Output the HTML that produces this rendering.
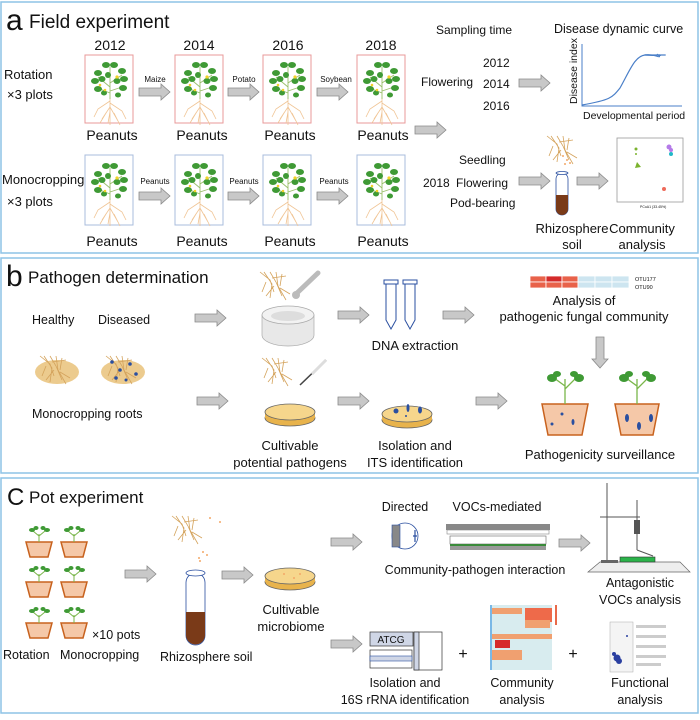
<!DOCTYPE html>
<html><head><meta charset="utf-8"><style>
html,body{margin:0;padding:0;background:#fff;}
svg text{font-family:"Liberation Sans",sans-serif;fill:#111;}
</style></head><body>
<svg width="700" height="715" viewBox="0 0 700 715" xmlns="http://www.w3.org/2000/svg">
<defs>
<g id="arr"><polygon points="0,-4 22,-4 22,-8 31,0 22,8 22,4 0,4" fill="#c8c8c8" stroke="#8a8a8a" stroke-width="0.8"/></g>
<g id="plant">
<g stroke="#f0c494" stroke-width="0.8" fill="none">
<path d="M24 40 L24 68 M24 44 L12 52 L8 60 M24 46 L36 54 L40 62 M24 50 L16 62 M24 50 L32 64 M20 56 L14 66 M28 56 L34 68 M24 55 L22 66"/>
</g>
<g stroke="#9bbf6a" stroke-width="0.9"><path d="M24 42 L24 10 M24 30 L12 20 M24 26 L36 18 M24 36 L14 32 M24 34 L36 30"/></g>
<g fill="#3f9a35">
<ellipse cx="20" cy="8" rx="4" ry="3"/><ellipse cx="28" cy="8" rx="4" ry="3"/><ellipse cx="12" cy="16" rx="4" ry="3"/><ellipse cx="36" cy="14" rx="4" ry="3"/><ellipse cx="9" cy="24" rx="4" ry="3"/><ellipse cx="16" cy="22" rx="3.5" ry="3"/><ellipse cx="38" cy="22" rx="4" ry="3"/><ellipse cx="31" cy="24" rx="3.5" ry="3"/><ellipse cx="12" cy="32" rx="4" ry="3"/><ellipse cx="37" cy="31" rx="4" ry="3"/><ellipse cx="22" cy="18" rx="3" ry="3"/><ellipse cx="18" cy="36" rx="3" ry="2.5"/><ellipse cx="32" cy="38" rx="3" ry="2.5"/>
</g>
<circle cx="31" cy="20" r="1.6" fill="#f2d22a"/><circle cx="14" cy="28" r="1.3" fill="#f2d22a"/><circle cx="19" cy="33" r="1.3" fill="#f2d22a"/>
</g>
<g id="pot"><polygon points="0,0 26,0 22,15 4,15" fill="#f5c8a8" stroke="#c8621e" stroke-width="1.5"/>
<path d="M13 0 L13 -8 M13 -6 L7 -11 M13 -6 L19 -11" stroke="#7ab64a" stroke-width="1" fill="none"/>
<ellipse cx="6" cy="-12" rx="3" ry="2" fill="#3f9a35"/><ellipse cx="10" cy="-14" rx="2.5" ry="2" fill="#3f9a35"/><ellipse cx="17" cy="-14" rx="2.5" ry="2" fill="#3f9a35"/><ellipse cx="21" cy="-12" rx="3" ry="2" fill="#3f9a35"/></g>
<g id="roots" stroke="#d4a35c" stroke-width="0.8" fill="none"><path d="M0 0 L10 8 L14 20 M4 0 L12 12 L10 26 M10 0 L16 10 L22 24 M16 0 L18 14 L26 28 M22 2 L20 14 M6 10 L2 20 M14 14 L6 24 M20 16 L30 22 M12 6 L26 4"/></g>
<g id="dish"><ellipse cx="25" cy="14" rx="25" ry="8" fill="#e8b34c" stroke="#666" stroke-width="0.8"/><rect x="0" y="8" width="50" height="6" fill="#e8b34c"/><ellipse cx="25" cy="8" rx="25" ry="8" fill="#f6d68c" stroke="#666" stroke-width="0.8"/></g>
</defs>

<!-- panel borders -->
<rect x="1" y="2" width="697" height="251" fill="none" stroke="#8ec3e6" stroke-width="1.5"/>
<rect x="1" y="258" width="697" height="215" fill="none" stroke="#8ec3e6" stroke-width="1.5"/>
<rect x="1" y="478" width="697" height="235" fill="none" stroke="#8ec3e6" stroke-width="1.5"/>

<!-- PANEL A -->
<text x="6" y="30" font-size="30">a</text>
<text x="29" y="28" font-size="19">Field experiment</text>
<g font-size="14" text-anchor="middle">
<text x="110" y="50">2012</text><text x="199" y="50">2014</text><text x="288" y="50">2016</text><text x="381" y="50">2018</text>
<text x="112" y="140">Peanuts</text><text x="202" y="140">Peanuts</text><text x="290" y="140">Peanuts</text><text x="383" y="140">Peanuts</text>
<text x="112" y="246">Peanuts</text><text x="202" y="246">Peanuts</text><text x="290" y="246">Peanuts</text><text x="383" y="246">Peanuts</text>
</g>
<g font-size="13"><text x="4" y="79">Rotation</text><text x="7" y="99">×3 plots</text><text x="2" y="184">Monocropping</text><text x="7" y="206">×3 plots</text></g>
<g fill="#fff" stroke="#e89a9a" stroke-width="1"><rect x="85" y="55" width="48" height="68"/><rect x="175" y="55" width="48" height="68"/><rect x="263" y="55" width="48" height="68"/><rect x="357" y="55" width="48" height="68"/></g>
<g fill="#fff" stroke="#a9bcdc" stroke-width="1"><rect x="85" y="155" width="48" height="70"/><rect x="175" y="155" width="48" height="70"/><rect x="263" y="155" width="48" height="70"/><rect x="357" y="155" width="48" height="70"/></g>
<use href="#plant" x="86" y="57"/><use href="#plant" x="176" y="57"/><use href="#plant" x="264" y="57"/><use href="#plant" x="358" y="57"/>
<use href="#plant" x="86" y="158"/><use href="#plant" x="176" y="158"/><use href="#plant" x="264" y="158"/><use href="#plant" x="358" y="158"/>
<use href="#arr" x="139" y="92"/><use href="#arr" x="228" y="92"/><use href="#arr" x="317" y="92"/>
<use href="#arr" x="139" y="196"/><use href="#arr" x="228" y="196"/><use href="#arr" x="317" y="196"/>
<g font-size="8" text-anchor="middle"><text x="155" y="82">Maize</text><text x="244" y="82">Potato</text><text x="336" y="82">Soybean</text>
<text x="155" y="184">Peanuts</text><text x="244" y="184">Peanuts</text><text x="334" y="184">Peanuts</text></g>
<g font-size="12"><text x="436" y="34">Sampling time</text><text x="554" y="33" font-size="12.5">Disease dynamic curve</text>
<text x="421" y="86">Flowering</text><text x="483" y="67">2012</text><text x="483" y="88">2014</text><text x="483" y="110">2016</text>
<text x="459" y="164">Seedling</text><text x="423" y="187">2018</text><text x="456" y="187">Flowering</text><text x="450" y="207">Pod-bearing</text></g>
<use href="#arr" x="519" y="83"/><use href="#arr" x="415" y="130"/><use href="#arr" x="519" y="181"/><use href="#arr" x="577" y="181"/>
<path d="M582 44 L582 106 L682 106" stroke="#4a7fc8" stroke-width="1" fill="none"/>
<path d="M582 105 C610 100 612 98 620 88 C630 70 635 56 645 55 L658 55 L660 55 L658 55 L658 55 C660 55 662 56 658 55 L658 55" stroke="#4a7fc8" stroke-width="1.2" fill="none"/>
<path d="M645 55 C650 55 655 56 658 55 C665 55 670 55 658 55" stroke="#4a7fc8" stroke-width="1.2" fill="none"/>
<path d="M645 55 L658 55 L657 54 L658 55" stroke="#4a7fc8" fill="none"/>
<path d="M644 55 Q650 54 656 56 T658 55 L658 55 L657 55" stroke="#4a7fc8" fill="none"/>
<line x1="644" y1="55" x2="658" y2="55" stroke="#4a7fc8"/>
<text x="0" y="0" font-size="10.5" transform="translate(577,104) rotate(-90)">Disease index</text>
<text x="583" y="119" font-size="10.5">Developmental period</text>
<use href="#roots" x="547" y="136" transform="scale(1)"/>
<g fill="#f4a868"><circle cx="563" cy="156" r="1"/><circle cx="567" cy="160" r="1"/><circle cx="570" cy="163" r="1"/><circle cx="565" cy="164" r="1"/></g>
<rect x="556" y="173" width="12" height="42" rx="6" fill="#fff" stroke="#2a4fa0" stroke-width="0.8"/>
<path d="M556 195 L568 195 L568 209 A6 6 0 0 1 556 209 Z" fill="#7a3a18"/>
<ellipse cx="562" cy="173" rx="6" ry="1.5" fill="#fff" stroke="#2a4fa0" stroke-width="0.8"/>
<rect x="617" y="138" width="66" height="64" fill="#fff" stroke="#999" stroke-width="0.8"/>
<g><circle cx="636" cy="149" r="1.5" fill="#7bb32e"/><circle cx="636" cy="154" r="1" fill="#7bb32e"/><polygon points="637,162 641,167 635,168" fill="#7bb32e"/><circle cx="669" cy="147" r="2.5" fill="#b47ae8"/><circle cx="671" cy="150" r="2" fill="#b47ae8"/><circle cx="671" cy="154" r="2" fill="#22b8c8"/><circle cx="664" cy="189" r="2" fill="#ee6a5a"/></g>
<text x="640" y="208" font-size="3.5" fill="#555">PCoA1 (33.45%)</text>
<g font-size="13" text-anchor="middle"><text x="572" y="233">Rhizosphere</text><text x="572" y="249">soil</text><text x="642" y="233">Community</text><text x="642" y="249">analysis</text></g>

<!-- PANEL B -->
<text x="6" y="286" font-size="30">b</text>
<text x="28" y="283" font-size="17">Pathogen determination</text>
<g font-size="12.5"><text x="32" y="324">Healthy</text><text x="98" y="324">Diseased</text><text x="32" y="418">Monocropping roots</text></g>
<g stroke="#d4a35c" stroke-width="0.8" fill="#e8c27a">
<ellipse cx="57" cy="372" rx="22" ry="12" fill="#eccb8e" stroke="none"/><ellipse cx="123" cy="372" rx="22" ry="12" fill="#eccb8e" stroke="none"/>
</g>
<use href="#roots" x="40" y="356"/><use href="#roots" x="106" y="356"/>
<g fill="#2a4fa0"><circle cx="112" cy="362" r="1.8"/><circle cx="120" cy="370" r="1.8"/><circle cx="130" cy="364" r="1.8"/><circle cx="116" cy="378" r="1.8"/><circle cx="136" cy="374" r="1.8"/><circle cx="126" cy="380" r="1.5"/></g>
<use href="#arr" x="195" y="318"/><use href="#arr" x="197" y="401"/>
<use href="#roots" x="260" y="272"/>
<line x1="297" y1="293" x2="318" y2="273" stroke="#bbb" stroke-width="5" stroke-linecap="round"/><circle cx="296" cy="295" r="4" fill="#bbb"/>
<path d="M262 315 L262 335 A26 11 0 0 0 314 335 L314 315 Z" fill="#e8e8e8" stroke="#aaa" stroke-width="0.7"/>
<ellipse cx="288" cy="315" rx="26" ry="9" fill="#f2f2f2" stroke="#aaa" stroke-width="0.7"/>
<ellipse cx="288" cy="316" rx="17" ry="5" fill="#ddd"/>
<use href="#arr" x="338" y="315"/>
<g fill="#fff" stroke="#2a4fa0" stroke-width="1"><path d="M386 283 L386 320 L391 329 L396 320 L396 283"/><path d="M405 283 L405 320 L410 329 L415 320 L415 283"/></g>
<rect x="384" y="280" width="14" height="4" fill="#fff" stroke="#2a4fa0"/><rect x="403" y="280" width="14" height="4" fill="#fff" stroke="#2a4fa0"/>
<text x="415" y="350" font-size="13" text-anchor="middle">DNA extraction</text>
<use href="#arr" x="443" y="315"/>
<g stroke="#fff" stroke-width="0.8">
<rect x="530" y="276" width="16" height="6" fill="#e8624a"/><rect x="546" y="276" width="16" height="6" fill="#d42a2a"/><rect x="562" y="276" width="16" height="6" fill="#e8624a"/><rect x="578" y="276" width="17" height="6" fill="#cde5f0"/><rect x="595" y="276" width="17" height="6" fill="#cde5f0"/><rect x="612" y="276" width="17" height="6" fill="#cde5f0"/>
<rect x="530" y="282" width="16" height="6" fill="#e8624a"/><rect x="546" y="282" width="16" height="6" fill="#e8624a"/><rect x="562" y="282" width="16" height="6" fill="#e8624a"/><rect x="578" y="282" width="17" height="6" fill="#cde5f0"/><rect x="595" y="282" width="17" height="6" fill="#cde5f0"/><rect x="612" y="282" width="17" height="6" fill="#cde5f0"/>
</g>
<text x="635" y="281" font-size="5.5">OTU177</text><text x="635" y="289" font-size="5.5">OTU90</text>
<g font-size="13" text-anchor="middle"><text x="584" y="305">Analysis of</text><text x="584" y="321">pathogenic fungal community</text></g>
<use href="#arr" transform="translate(600,337) rotate(90)"/>
<use href="#roots" x="262" y="358"/>
<line x1="300" y1="385" x2="326" y2="360" stroke="#444" stroke-width="1.5"/><line x1="312" y1="374" x2="326" y2="360" stroke="#ddd" stroke-width="3"/>
<use href="#dish" x="265" y="404"/>
<use href="#arr" x="338" y="401"/>
<use href="#dish" x="382" y="406"/>
<g fill="#2a4fa0"><circle cx="396" cy="411" r="2.5"/><ellipse cx="408" cy="408" rx="1.5" ry="4"/><ellipse cx="420" cy="410" rx="2" ry="3.5"/><circle cx="406" cy="416" r="1"/></g>
<g font-size="13" text-anchor="middle"><text x="290" y="450">Cultivable</text><text x="290" y="467">potential pathogens</text><text x="415" y="450">Isolation and</text><text x="415" y="467">ITS identification</text><text x="600" y="459">Pathogenicity surveillance</text></g>
<use href="#arr" x="476" y="401"/>
<g transform="translate(542,404)"><polygon points="0,0 46,0 40,31 6,31" fill="#f5c8a8" stroke="#c8621e" stroke-width="1.5"/>
<path d="M23 0 L23 -25 M23 -18 L12 -26 M23 -15 L34 -26" stroke="#7ab64a" stroke-width="1.3" fill="none"/>
<ellipse cx="10" cy="-26" rx="5" ry="4" fill="#3f9a35"/><ellipse cx="15" cy="-30" rx="4" ry="3" fill="#3f9a35"/><ellipse cx="32" cy="-30" rx="4" ry="3" fill="#3f9a35"/><ellipse cx="37" cy="-26" rx="5" ry="4" fill="#3f9a35"/>
<circle cx="10" cy="20" r="1.5" fill="#2a4fa0"/><circle cx="20" cy="10" r="1.5" fill="#2a4fa0"/><ellipse cx="31" cy="18" rx="1.5" ry="3" fill="#2a4fa0"/></g>
<g transform="translate(615,404)"><polygon points="0,0 44,0 38,31 6,31" fill="#f5c8a8" stroke="#c8621e" stroke-width="1.5"/>
<path d="M22 0 L22 -25 M22 -18 L11 -26 M22 -15 L33 -26" stroke="#7ab64a" stroke-width="1.3" fill="none"/>
<ellipse cx="9" cy="-26" rx="5" ry="4" fill="#3f9a35"/><ellipse cx="14" cy="-30" rx="4" ry="3" fill="#3f9a35"/><ellipse cx="31" cy="-30" rx="4" ry="3" fill="#3f9a35"/><ellipse cx="36" cy="-26" rx="5" ry="4" fill="#3f9a35"/>
<ellipse cx="12" cy="14" rx="2" ry="4" fill="#2a4fa0"/><ellipse cx="24" cy="22" rx="2" ry="4" fill="#2a4fa0"/><ellipse cx="36" cy="14" rx="2" ry="4" fill="#2a4fa0"/></g>

<!-- PANEL C -->
<text x="7" y="505" font-size="24">C</text>
<text x="29" y="503" font-size="17">Pot experiment</text>
<use href="#pot" x="26" y="542"/><use href="#pot" x="61" y="542"/>
<use href="#pot" x="26" y="582"/><use href="#pot" x="61" y="582"/>
<use href="#pot" x="26" y="623"/><use href="#pot" x="61" y="623"/>
<g font-size="12.5"><text x="92" y="639">×10 pots</text><text x="3" y="659">Rotation</text><text x="60" y="659">Monocropping</text><text x="160" y="661">Rhizosphere soil</text></g>
<use href="#arr" x="125" y="574"/>
<use href="#roots" x="172" y="516"/>
<g fill="#f4a868"><circle cx="210" cy="518" r="1"/><circle cx="220" cy="522" r="1"/><circle cx="203" cy="552" r="1"/><circle cx="199" cy="558" r="1"/><circle cx="207" cy="555" r="1"/><circle cx="200" cy="561" r="1"/></g>
<rect x="186" y="573" width="19" height="72" rx="9.5" fill="#fff" stroke="#2a4fa0" stroke-width="0.8"/>
<path d="M186 612 L205 612 L205 635 A9.5 9.5 0 0 1 186 635 Z" fill="#7a3a18"/>
<ellipse cx="195.5" cy="573" rx="9.5" ry="3" fill="#fff" stroke="#2a4fa0" stroke-width="0.8"/>
<use href="#arr" x="222" y="575"/>
<use href="#dish" x="265" y="568"/>
<g fill="#f4a868"><circle cx="284" cy="574" r="1"/><circle cx="294" cy="578" r="1"/><circle cx="300" cy="574" r="1"/></g>
<g font-size="13" text-anchor="middle"><text x="291" y="614">Cultivable</text><text x="291" y="631">microbiome</text></g>
<use href="#arr" x="331" y="542"/><use href="#arr" x="331" y="644"/>
<g font-size="12.5" text-anchor="middle"><text x="405" y="511">Directed</text><text x="497" y="511">VOCs-mediated</text><text x="475" y="574">Community-pathogen interaction</text>
<text x="640" y="587">Antagonistic</text><text x="640" y="604">VOCs analysis</text>
<text x="405" y="687">Isolation and</text><text x="405" y="704">16S rRNA identification</text>
<text x="522" y="687">Community</text><text x="522" y="704">analysis</text>
<text x="640" y="687">Functional</text><text x="640" y="704">analysis</text></g>
<circle cx="405" cy="536" r="13" fill="#fff" stroke="#2a4fa0" stroke-width="0.8"/>
<rect x="392" y="525" width="8" height="22" fill="#888" stroke="#2a4fa0" stroke-width="0.6"/>
<path d="M415 530 L415 542 M413 536 L417 536" stroke="#2a4fa0" stroke-width="1.2"/>
<rect x="446" y="524" width="104" height="6" fill="#888"/>
<rect x="488" y="530" width="12" height="3" fill="#4a7fc8"/>
<rect x="447" y="530" width="102" height="4" fill="#fff" stroke="#888" stroke-width="0.6"/>
<rect x="450" y="536" width="96" height="8" fill="#fff" stroke="#666" stroke-width="0.6"/>
<rect x="450" y="544" width="96" height="2" fill="#3a8a3a"/>
<rect x="450" y="546" width="96" height="4" fill="#999"/>
<use href="#arr" x="559" y="543"/>
<g stroke="#555" stroke-width="1" fill="none"><line x1="607" y1="483" x2="607" y2="560"/><line x1="600" y1="517" x2="640" y2="517"/><line x1="637" y1="500" x2="637" y2="550"/><line x1="637" y1="550" x2="653" y2="556"/></g>
<rect x="634" y="520" width="6" height="14" fill="#555"/>
<polygon points="588,572 690,572 680,562 600,562" fill="#eee" stroke="#666" stroke-width="0.7"/>
<rect x="620" y="557" width="35" height="5" fill="#2bb34a" stroke="#333" stroke-width="0.6"/>
<rect x="601" y="560" width="17" height="3" fill="#666"/>
<rect x="370" y="632" width="43" height="14" fill="#cfd6e6" stroke="#333" stroke-width="0.7"/>
<text x="391" y="643" font-size="10" text-anchor="middle">ATCG</text>
<rect x="370" y="650" width="42" height="18" fill="#fff" stroke="#333" stroke-width="0.7"/>
<rect x="370" y="656" width="42" height="5" fill="#cfd6e6" stroke="#2a4fa0" stroke-width="0.6"/>
<rect x="414" y="632" width="28" height="38" fill="#fff" stroke="#333" stroke-width="0.7"/>
<rect x="414" y="632" width="5" height="38" fill="#cfd6e6" stroke="#333" stroke-width="0.7"/>
<text x="463" y="659" font-size="16" text-anchor="middle">+</text>
<text x="573" y="659" font-size="16" text-anchor="middle">+</text>
<rect x="492" y="605" width="60" height="65" fill="#d8ecef"/>
<g fill="#f0a070"><rect x="492" y="608" width="30" height="6"/><rect x="525" y="608" width="27" height="14" fill="#ee6a4a"/><rect x="492" y="634" width="60" height="5"/><rect x="495" y="640" width="15" height="8" fill="#d62a2a"/><rect x="492" y="650" width="30" height="10"/><rect x="525" y="620" width="25" height="8"/></g>
<rect x="490" y="605" width="2" height="65" fill="#7ab8e6"/>
<rect x="555" y="605" width="2" height="20" fill="#e86a4a"/>
<rect x="610" y="622" width="23" height="50" fill="#f4f4f4" stroke="#aaa" stroke-width="0.5"/>
<g fill="#2a3fa0"><circle cx="617" cy="658" r="3.5"/><circle cx="619" cy="661" r="3"/><circle cx="614" cy="654" r="2"/><circle cx="627" cy="636" r="1"/></g>
<g fill="#ccc"><rect x="636" y="625" width="30" height="3"/><rect x="636" y="635" width="30" height="3"/><rect x="636" y="645" width="30" height="3"/><rect x="636" y="655" width="30" height="3"/><rect x="636" y="663" width="25" height="3"/></g>
</svg>
</body></html>
